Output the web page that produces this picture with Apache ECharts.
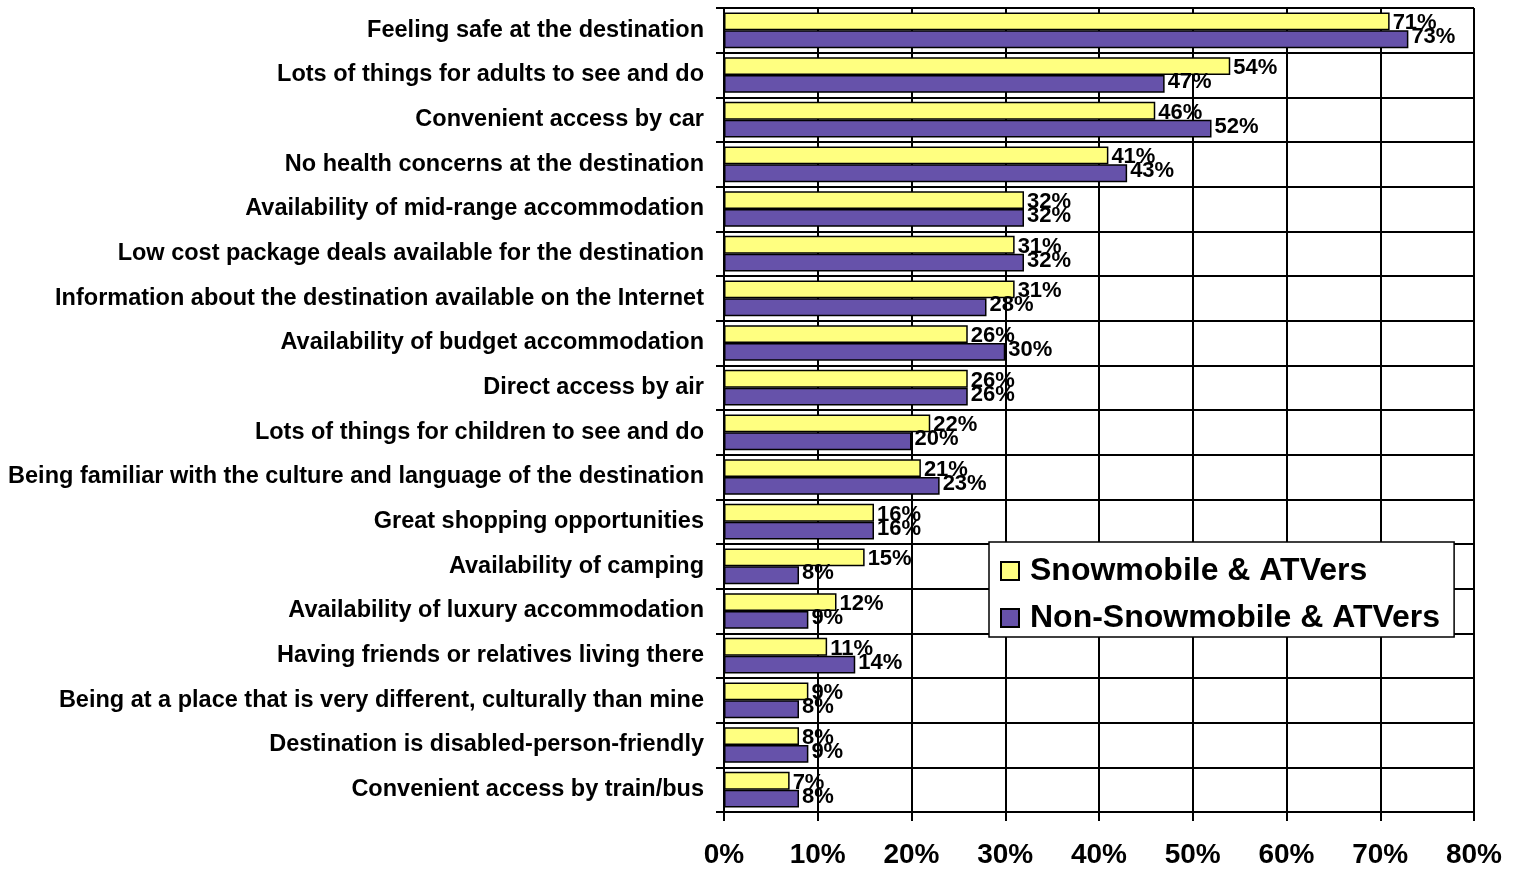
<!DOCTYPE html>
<html>
<head>
<meta charset="utf-8">
<script src="https://cdn.jsdelivr.net/npm/echarts@6/dist/echarts.min.js"></script>
<style>
  html, body { margin: 0; padding: 0; background: #fff; }
  #chart { width: 1517px; height: 869px; }
</style>
</head>
<body>
<div id="chart"></div>
<script>
const categories = [
  'Feeling safe at the destination',
  'Lots of things for adults to see and do',
  'Convenient access by car',
  'No health concerns at the destination',
  'Availability of mid-range accommodation',
  'Low cost package deals available for the destination',
  'Information about the destination available on the Internet',
  'Availability of budget accommodation',
  'Direct access by air',
  'Lots of things for children to see and do',
  'Being familiar with the culture and language of the destination',
  'Great shopping opportunities',
  'Availability of camping',
  'Availability of luxury accommodation',
  'Having friends or relatives living there',
  'Being at a place that is very different, culturally than mine',
  'Destination is disabled-person-friendly',
  'Convenient access by train/bus'
]
const snowmobile = [71, 54, 46, 41, 32, 31, 31, 26, 26, 22, 21, 16, 15, 12, 11, 9, 8, 7]
const nonSnowmobile = [73, 47, 52, 43, 32, 32, 28, 30, 26, 20, 23, 16, 8, 9, 14, 8, 9, 8]
const seriesNames = ['Snowmobile & ATVers', 'Non-Snowmobile & ATVers']

const font = 'Arial, "Liberation Sans", sans-serif'
const chart = echarts.init(document.getElementById('chart'))

const labelStyle = (dy) => ({
  show: true,
  position: 'right',
  distance: 3,
  offset: [0, dy],
  formatter: '{c}%',
  color: '#000',
  fontFamily: font,
  fontWeight: 'bold',
  fontSize: 22
})

chart.setOption({
  animation: false,
  grid: {
    left: 724,
    top: 8,
    right: 43,
    bottom: 56
  },
  legend: {
    data: seriesNames,
    orient: 'vertical',
    left: 989,
    top: 542,
    padding: [13, 14, 3, 11],
    itemGap: 15,
    itemWidth: 18,
    itemHeight: 18,
    icon: 'rect',
    backgroundColor: '#fff',
    borderColor: '#000',
    borderWidth: 1.5,
    borderRadius: 0,
    textStyle: {
      color: '#000',
      fontFamily: font,
      fontWeight: 'bold',
      fontSize: 32,
      padding: [0, 0, 0, 6]
    }
  },
  xAxis: {
    type: 'value',
    min: 0,
    max: 80,
    interval: 10,
    axisLine: { show: true, lineStyle: { color: '#000', width: 2 } },
    axisTick: { show: true, length: 9, lineStyle: { color: '#000', width: 2 } },
    splitLine: { show: true, lineStyle: { color: '#000', width: 2 } },
    axisLabel: {
      formatter: '{value}%',
      margin: 29,
      color: '#000',
      fontFamily: font,
      fontWeight: 'bold',
      fontSize: 28
    }
  },
  yAxis: {
    type: 'category',
    data: categories,
    inverse: true,
    axisLine: { show: true, lineStyle: { color: '#000', width: 2 } },
    axisTick: { show: true, length: 8, lineStyle: { color: '#000', width: 2 } },
    splitLine: { show: true, lineStyle: { color: '#000', width: 2 } },
    axisLabel: {
      margin: 20,
      color: '#000',
      fontFamily: font,
      fontWeight: 'bold',
      fontSize: 23.5
    }
  },
  series: [{
    name: seriesNames[0],
    type: 'bar',
    data: snowmobile,
    barGap: '0%',
    barCategoryGap: '20%',
    itemStyle: { color: '#FFFF80', borderColor: '#000', borderWidth: 1.5 },
    label: labelStyle(2)
  }, {
    name: seriesNames[1],
    type: 'bar',
    data: nonSnowmobile,
    itemStyle: { color: '#6652AA', borderColor: '#000', borderWidth: 1.5 },
    label: labelStyle(-2)
  }]
})
</script>
</body>
</html>
